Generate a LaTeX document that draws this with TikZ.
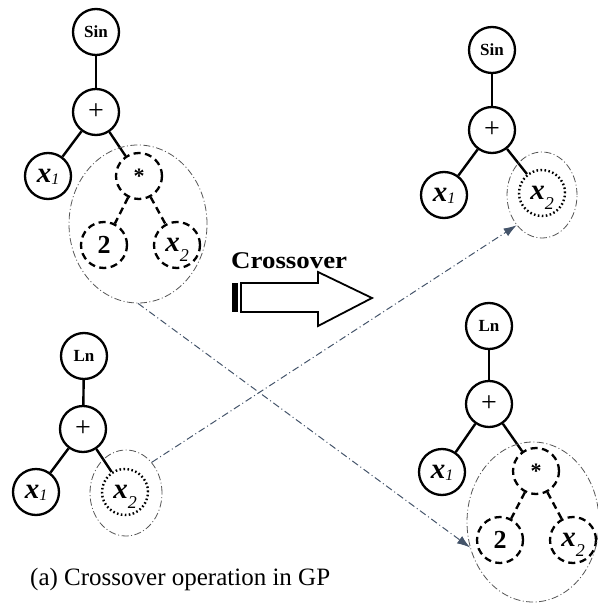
\documentclass[tikz,border=0pt]{standalone}
\usepackage{fontspec}
\setmainfont{Liberation Serif}
\usetikzlibrary{shapes.geometric,arrows.meta}
\definecolor{linkblue}{HTML}{44546A}
\definecolor{grpgray}{HTML}{555555}
% tree labels
\newcommand\opfont{\fontsize{17}{17}\selectfont\bfseries}
\newcommand\plusfont{\fontsize{28}{28}\selectfont}
\newcommand\varx[2]{{\fontsize{29}{29}\selectfont\bfseries\itshape x}{\fontsize{#2}{#2}\selectfont\itshape #1}}
\newcommand\xone{\varx{\raisebox{-1.5pt}[0pt][0pt]{1}}{16}}
\newcommand\xtwo{\varx{\raisebox{-10pt}[0pt][0pt]{2}}{18}}
\tikzset{
  tnode/.style={circle, draw, line width=2.3pt, minimum size=46pt, inner sep=0pt},
  dnode/.style={tnode, dash pattern=on 7pt off 4.5pt},
  onode/.style={tnode, line width=2.4pt, dash pattern=on 1.6pt off 2.4pt},
  tedge/.style={line width=2.4pt},
  dedge/.style={line width=2.4pt, dash pattern=on 7pt off 4.5pt},
  grp/.style={ellipse, draw=grpgray, line width=0.8pt, inner sep=0pt,
    dash pattern=on 7pt off 2.5pt on 1pt off 2.5pt},
  link/.style={draw=linkblue, line width=1pt,
    dash pattern=on 7pt off 3pt on 1pt off 3pt,
    -{Latex[length=13pt,width=9pt]}},
}
\begin{document}
\begin{tikzpicture}[x=1pt,y=-1pt]
\useasboundingbox (0,0) rectangle (597,609);

% parent 1: sin(x1 + 2*x2)
\node[tnode] (sA) at (96,32) {\opfont Sin};
\node[tnode] (pA) at (96,112) {\plusfont +};
\node[tnode] (aA1) at (48,176) {\xone};
\node[dnode] (mA) at (139,176) {\fontsize{22}{22}\selectfont\bfseries *};
\node[dnode] (tA) at (104,245) {\fontsize{26}{26}\selectfont\bfseries 2};
\node[dnode] (aA2) at (177,245) {\xtwo};
\draw[tedge] (sA) -- (pA);
\draw[tedge] (pA) -- (aA1);
\draw[tedge] (pA) -- (mA);
\draw[dedge] (mA) -- (tA);
\draw[dedge] (mA) -- (aA2);
\node[grp, minimum width=138pt, minimum height=158pt] (g1) at (138,224) {};

% parent 2: ln(x1 + x2)
\node[tnode] (lB) at (84,356) {\opfont Ln};
\node[tnode] (pB) at (83,429) {\plusfont +};
\node[tnode] (bB1) at (36,492) {\xone};
\node[onode] (bB2) at (125,492) {\xtwo};
\draw[tedge] (lB) -- (pB);
\draw[tedge] (pB) -- (bB1);
\draw[tedge] (pB) -- (bB2);
\node[grp, minimum width=72pt, minimum height=86pt] (g2) at (126,493) {};

% crossover arrow
\fill (232,283) rectangle (238,312);
\draw[line width=1.8pt, line join=miter]
  (241,283) -- (318,283) -- (318,272) -- (372,298) -- (318,326)
  -- (318,312) -- (241,312) -- cycle;
\node[anchor=base west, inner sep=0pt] (xlabel) at (231,268)
  {\scalebox{1.12}[1]{\fontsize{24}{24}\selectfont\bfseries Crossover}};

% offspring 1: sin(x1 + x2)
\node[tnode] (sC) at (492,50) {\opfont Sin};
\node[tnode] (pC) at (492,130) {\plusfont +};
\node[tnode] (cC1) at (444,195) {\xone};
\node[onode] (cC2) at (542,193) {\xtwo};
\draw[tedge] (sC) -- (pC);
\draw[tedge] (pC) -- (cC1);
\draw[tedge] (pC) -- (cC2);
\node[grp, minimum width=70pt, minimum height=86pt] (g3) at (542,195) {};

% offspring 2: ln(x1 + 2*x2)
\node[tnode] (lD) at (489,326) {\opfont Ln};
\node[tnode] (pD) at (489,404) {\plusfont +};
\node[tnode] (dD1) at (442,472) {\xone};
\node[dnode] (mD) at (536,471) {\fontsize{22}{22}\selectfont\bfseries *};
\node[dnode] (tD) at (500,540) {\fontsize{26}{26}\selectfont\bfseries 2};
\node[dnode] (dD2) at (573,540) {\xtwo};
\draw[tedge] (lD) -- (pD);
\draw[tedge] (pD) -- (dD1);
\draw[tedge] (pD) -- (mD);
\draw[dedge] (mD) -- (tD);
\draw[dedge] (mD) -- (dD2);
\node[grp, minimum width=132pt, minimum height=160pt] (g4) at (533,522) {};

% exchanged subtrees
\draw[link] (g1.south) -- (g4.202);
\draw[link] (g2.50) -- (g3.230);

% caption
\node[anchor=base west, inner sep=0pt] (cap) at (30,585)
  {\fontsize{25}{25}\selectfont (a) Crossover operation in GP};
\end{tikzpicture}
\end{document}
